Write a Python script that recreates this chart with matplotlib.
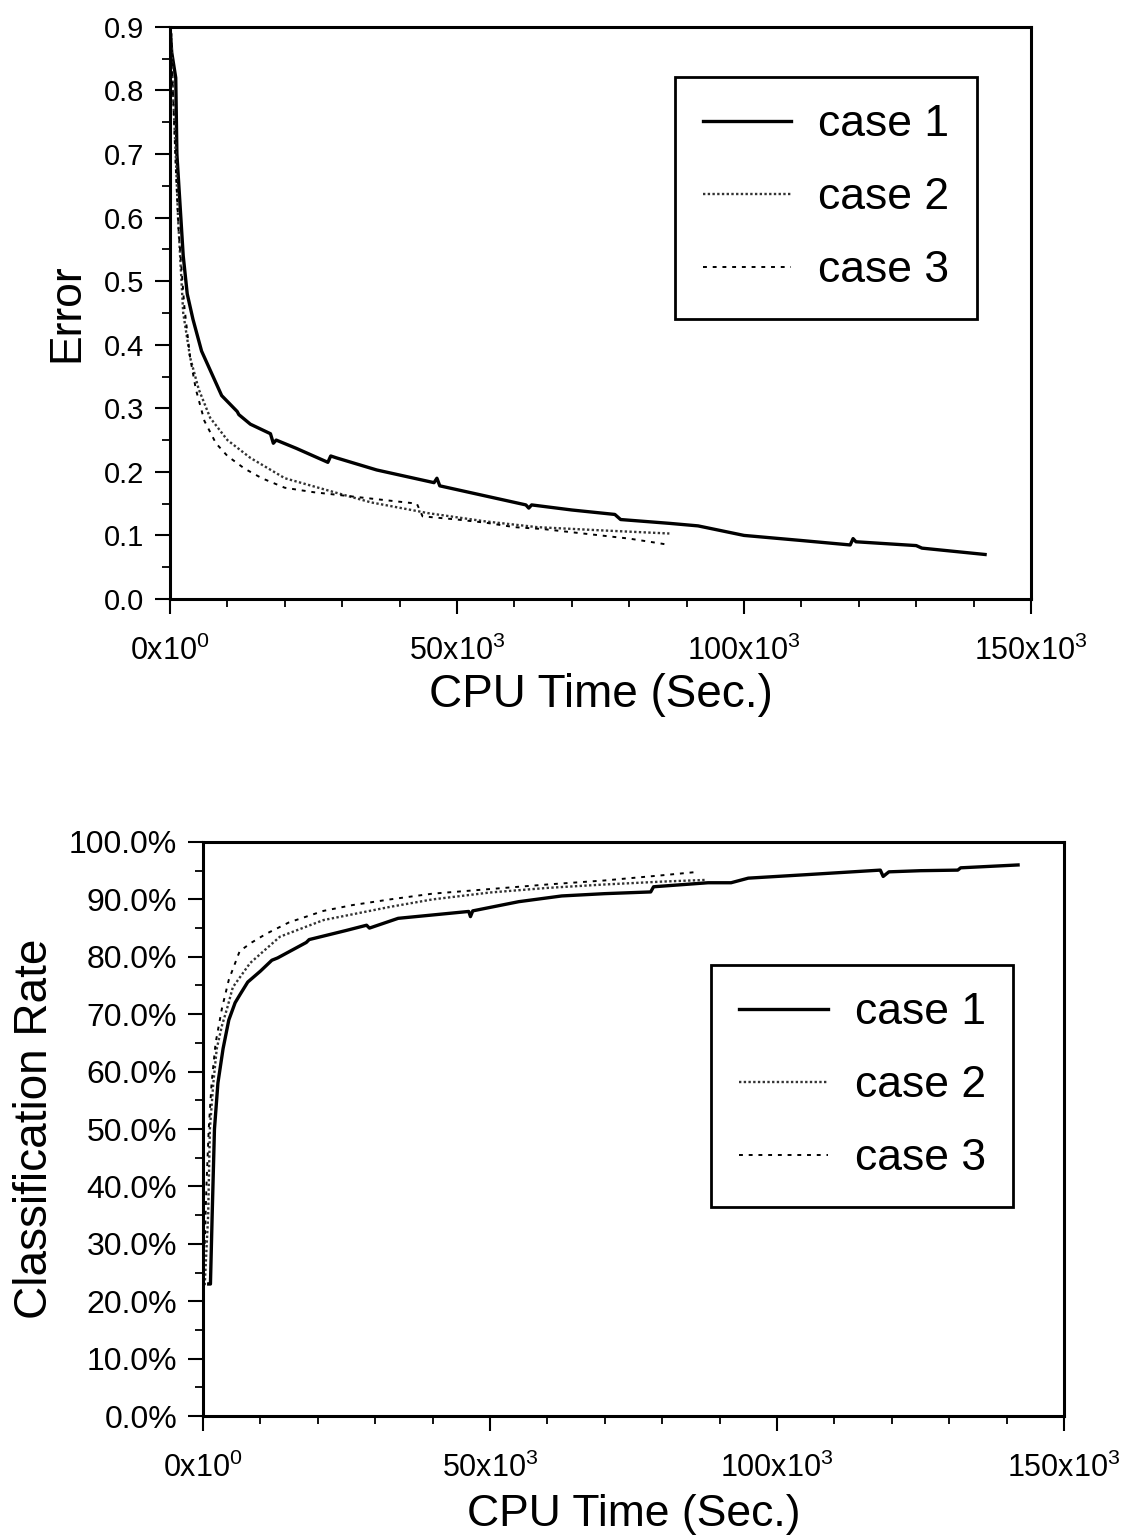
import matplotlib
matplotlib.use('Agg')
import matplotlib.pyplot as plt
from matplotlib.ticker import MultipleLocator, FuncFormatter
import numpy as np

plt.rcParams['font.family'] = ['Liberation Sans', 'DejaVu Sans']
plt.rcParams['mathtext.fontset'] = 'custom'
plt.rcParams['mathtext.rm'] = 'Liberation Sans'
plt.rcParams['mathtext.it'] = 'Liberation Sans'
plt.rcParams['mathtext.bf'] = 'Liberation Sans'
plt.rcParams['mathtext.default'] = 'regular'

# top panel: error vs CPU time (x in thousands of seconds)
err1_x = [0, 0.3, 1.0, 1.2, 2.3, 3.0, 4.0, 5.5, 6.5, 7.5, 9, 11.7, 12, 14, 17.5, 18, 18.5, 22, 27.5, 28, 29,
          36, 46, 46.5, 47, 55, 62, 62.5, 63, 70, 77.5, 78.5, 87, 92, 100, 110, 118.5, 119, 119.5, 130, 131, 142]
err1_y = [0.9, 0.86, 0.82, 0.70, 0.54, 0.48, 0.44, 0.39, 0.37, 0.35, 0.32, 0.295, 0.29, 0.275, 0.26, 0.245,
          0.25, 0.237, 0.215, 0.225, 0.222, 0.203, 0.183, 0.19, 0.178, 0.162, 0.148, 0.143, 0.148, 0.14,
          0.133, 0.125, 0.119, 0.115, 0.10, 0.092, 0.085, 0.095, 0.09, 0.084, 0.08, 0.07]
err2_x = [0.2, 0.5, 1.0, 1.4, 2.3, 3.5, 5, 7, 10, 14, 20, 29, 35, 45, 55, 64, 75, 87]
err2_y = [0.89, 0.8, 0.7, 0.6, 0.45, 0.38, 0.33, 0.285, 0.25, 0.222, 0.19, 0.167, 0.152, 0.135, 0.122,
          0.113, 0.108, 0.103]
err3_x = [0.2, 0.5, 1.0, 1.5, 2.5, 3.5, 4.5, 6, 8, 10, 13, 16, 20, 25, 30, 35, 40, 43, 44, 50, 55, 60,
          65, 70, 75, 80, 85, 87]
err3_y = [0.89, 0.8, 0.68, 0.58, 0.46, 0.38, 0.33, 0.28, 0.245, 0.225, 0.205, 0.19, 0.175, 0.168, 0.163,
          0.158, 0.153, 0.15, 0.13, 0.125, 0.12, 0.113, 0.11, 0.105, 0.1, 0.095, 0.088, 0.085]

# bottom panel: classification rate (%) vs CPU time
rate1_x = [1.0, 1.3, 1.6, 2.0, 2.6, 3.5, 4.5, 5.6, 6.5, 7.8, 10, 12, 13, 18, 18.5, 25, 28.5, 29, 34,
           46.3, 46.6, 47, 55, 62.5, 70, 78, 78.5, 88, 92, 95, 105, 118, 118.5, 119.5, 125, 131.5, 132, 142]
rate1_y = [23, 23, 35, 50, 58, 64, 69, 72, 73.5, 75.6, 77.5, 79.4, 79.8, 82.5, 83, 84.6, 85.5, 85, 86.7,
           87.9, 87, 88, 89.6, 90.6, 91, 91.3, 92.2, 92.9, 92.9, 93.7, 94.3, 95.1, 94, 94.8, 95, 95.1, 95.5, 96]
rate2_x = [0.3, 0.9, 1.2, 1.8, 2.4, 3.3, 4.2, 5.2, 8.2, 13.4, 21, 32.6, 40, 50, 60, 70, 80, 87.8]
rate2_y = [22.8, 35, 50, 58, 64, 68, 71, 74.7, 78.9, 83.5, 86.4, 88.7, 90, 91.2, 92, 92.6, 93.1, 93.4]
rate3_x = [0.3, 0.6, 1.0, 1.5, 2.2, 3.3, 4.5, 6.4, 8.5, 11, 15, 21, 26, 32.6, 40, 50, 60, 70, 80, 86.3]
rate3_y = [30, 40, 50, 58, 65, 71, 76, 81, 82.5, 84, 86, 88, 89, 90, 91, 91.8, 92.6, 93.3, 94.2, 94.8]

labels = ['case 1', 'case 2', 'case 3']


def xfmt(v, pos):
    if v == 0:
        return '0x10$^{0}$'
    return '%dx10$^{3}$' % int(round(v / 1000))


def style_axes(ax, ysize, xlabsize, xlabpad):
    for s in ax.spines.values():
        s.set_linewidth(2.2)
    ax.set_xlim(0, 150000)
    ax.xaxis.set_major_locator(MultipleLocator(50000))
    ax.xaxis.set_minor_locator(MultipleLocator(10000))
    ax.xaxis.set_major_formatter(FuncFormatter(xfmt))
    ax.tick_params(which='major', direction='out', length=10.5, width=1.5)
    ax.tick_params(which='minor', direction='out', length=6, width=1.3)
    ax.tick_params(axis='x', which='major', labelsize=22, pad=16)
    ax.tick_params(axis='y', which='major', labelsize=ysize, pad=8)
    ax.set_xlabel('CPU Time (Sec.)', fontsize=xlabsize, labelpad=xlabpad)


def draw_lines(ax, xs, ys):
    ax.plot(np.array(xs[0]) * 1000, ys[0], color='black', lw=2.4, label=labels[0])
    ax.plot(np.array(xs[1]) * 1000, ys[1], color='#333333', lw=1.7, linestyle=(0, (1, 1)), label=labels[1])
    ax.plot(np.array(xs[2]) * 1000, ys[2], color='black', lw=1.4, linestyle=(0, (2, 3)), label=labels[2])


def add_legend(ax, anchor):
    leg = ax.legend(loc='upper right', bbox_to_anchor=anchor, fontsize=32, frameon=True,
                    fancybox=False, edgecolor='black', handlelength=2.0, labelspacing=0.72,
                    borderpad=0.62, handletextpad=0.6, borderaxespad=0)
    leg.get_frame().set_linewidth(2)
    leg.get_frame().set_alpha(1)


fig = plt.figure(figsize=(11.41, 15.39), dpi=100)

ax1 = fig.add_axes([0.149, 0.6108, 0.7546, 0.3717])
draw_lines(ax1, [err1_x, err2_x, err3_x], [err1_y, err2_y, err3_y])
style_axes(ax1, 21, 33, 4)
ax1.set_ylim(0, 0.9)
ax1.yaxis.set_major_locator(MultipleLocator(0.1))
ax1.yaxis.set_minor_locator(MultipleLocator(0.05))
ax1.yaxis.set_major_formatter(FuncFormatter(lambda v, p: '%.1f' % v))
ax1.set_ylabel('Error', fontsize=32, labelpad=12)
add_legend(ax1, (0.937, 0.9126))

ax2 = fig.add_axes([0.1779, 0.0799, 0.7546, 0.373])
draw_lines(ax2, [rate1_x, rate2_x, rate3_x], [rate1_y, rate2_y, rate3_y])
style_axes(ax2, 23, 32, 7)
ax2.set_ylim(0, 100)
ax2.yaxis.set_major_locator(MultipleLocator(10))
ax2.yaxis.set_minor_locator(MultipleLocator(5))
ax2.yaxis.set_major_formatter(FuncFormatter(lambda v, p: '%.1f%%' % v))
ax2.set_ylabel('Classification Rate', fontsize=33, labelpad=9)
add_legend(ax2, (0.941, 0.786))

plt.savefig('out.png', dpi=100)
